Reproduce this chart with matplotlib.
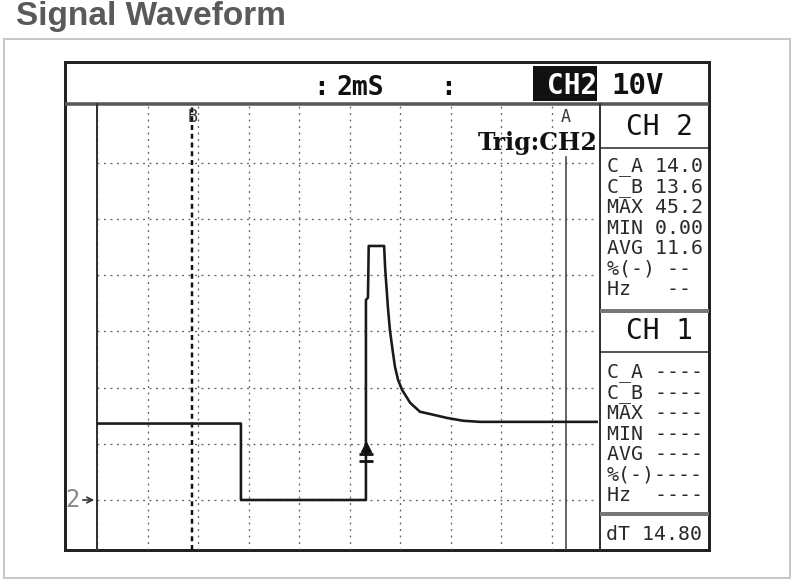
import matplotlib
matplotlib.use('Agg')
import matplotlib.pyplot as plt
from matplotlib.patches import Rectangle

# ---------------- data ----------------
time_ms = [0.0, 5.70, 5.70, 10.65, 10.65, 10.73, 10.76, 11.37, 11.41, 11.52, 11.60,
           11.72, 11.80, 11.92, 12.08, 12.40, 12.79, 13.19, 13.86, 14.50, 15.17, 15.96, 19.84]
volts = [13.6, 13.6, 0.0, 0.0, 35.6, 36.0, 45.2, 45.2, 41.3, 34.3, 30.2,
         26.2, 23.7, 21.4, 19.6, 17.3, 15.7, 15.3, 14.6, 14.1, 13.9, 13.9, 13.9]
cursor_b_ms = 3.77
cursor_a_ms = 18.57
trigger_ms = 10.65
time_div_ms = 2
volt_div = 10
ch2_lines = ["C_A 14.0", "C_B 13.6", "MAX 45.2", "MIN 0.00", "AVG 11.6", "%(-) --", "Hz   --"]
ch1_lines = ["C_A ----", "C_B ----", "MAX ----", "MIN ----", "AVG ----", "%(-)----", "Hz  ----"]
dT_text = "dT 14.80"

W, H = 794, 582
PX = 0.72
MONO = 'DejaVu Sans Mono'

fig = plt.figure(figsize=(W / 100, H / 100), dpi=100)
fig.patch.set_facecolor('white')
bg = fig.add_axes([0, 0, 1, 1])
bg.set_xlim(0, W)
bg.set_ylim(H, 0)
bg.axis('off')

# title
bg.text(16, 16, "Signal Waveform", fontsize=24, fontweight='bold', color='#5a5a5a',
        family='Liberation Sans', ha='left', va='center')
# outer light frame
bg.add_patch(Rectangle((4, 39), 786, 539, fill=False, ec='#c8c8c8', lw=2 * PX))
# screen frame
bg.add_patch(Rectangle((65, 62), 644, 488, fill=False, ec='#222222', lw=3 * PX, zorder=5))
# header bottom line
bg.plot([65, 709], [104, 104], color='#555555', lw=3.5 * PX, solid_capstyle='butt', zorder=5)
# right panel border
bg.plot([600, 600], [104, 550], color='#333333', lw=2 * PX, zorder=5)
for y, c, w in [(148, '#222222', 1.5), (311, '#777777', 4), (352, '#222222', 1.5), (514, '#777777', 4)]:
    bg.plot([600, 709], [y, y], color=c, lw=w * PX, solid_capstyle='butt', zorder=5)

# header texts
bg.text(313, 88, ":", fontsize=19, family=MONO, fontweight='bold', ha='left', va='center', color='#111')
bg.text(336, 88, "2mS", fontsize=19, family=MONO, fontweight='bold', ha='left', va='center', color='#111')
bg.text(440, 88, ":", fontsize=19, family=MONO, fontweight='bold', ha='left', va='center', color='#111')
bg.add_patch(Rectangle((533, 66), 64, 35, fc='#111111', ec='none'))
bg.text(597, 86, "CH2", fontsize=20, family=MONO, fontweight='bold', ha='right', va='center', color='white')
bg.text(611, 86, "10V", fontsize=21, family=MONO, fontweight='bold', ha='left', va='center', color='#111')

# right panel texts
bg.text(660, 127, "CH 2", fontsize=20, family=MONO, ha='center', va='center', color='#111')
bg.text(660, 331, "CH 1", fontsize=20, family=MONO, ha='center', va='center', color='#111')
y0, dy = 167, 20.4
for i, s in enumerate(ch2_lines):
    bg.text(607, y0 + i * dy, s, fontsize=14.3, family=MONO, ha='left', va='center', color='#2a2a2a')
y1 = 373
for i, s in enumerate(ch1_lines):
    bg.text(607, y1 + i * dy, s, fontsize=14.3, family=MONO, ha='left', va='center', color='#2a2a2a')
bg.text(606, 535, dT_text, fontsize=14.3, family=MONO, ha='left', va='center', color='#2a2a2a')

# ground marker
bg.text(72, 500, "2", fontsize=17, family=MONO, ha='center', va='center', color='#888')
bg.annotate('', xy=(97, 500), xytext=(80, 500),
            arrowprops=dict(arrowstyle='->', color='#333', lw=1.2))

# ---------------- waveform axes ----------------
ax = fig.add_axes([97 / W, (H - 550) / H, (598 - 97) / W, (550 - 104) / H])
ax.patch.set_alpha(0)
ax.set_xlim(0, 19.84)
ax.set_ylim(-8.9, 70.46)
ax.set_xticks(range(0, 20, time_div_ms))
ax.set_yticks(range(0, 70, volt_div))
ax.tick_params(length=0, labelbottom=False, labelleft=False)
ax.grid(True, color='#666666', lw=1.3 * PX, linestyle=(0, (1.5, 3.5)))
for s in ['top', 'right', 'bottom']:
    ax.spines[s].set_visible(False)
ax.spines['left'].set_color('#333333')
ax.spines['left'].set_linewidth(2 * PX)

ax.plot(time_ms, volts, color='#1a1a1a', lw=2.6 * PX, zorder=4)

# cursors
ax.axvline(cursor_b_ms, color='#111111', lw=2.5 * PX, linestyle=(0, (2, 1.5)), zorder=3)
ax.plot([cursor_a_ms, cursor_a_ms], [-8.9, 61], color='#444444', lw=1.6 * PX, zorder=3)
ax.text(cursor_b_ms, 68.2, "B", fontsize=12, family=MONO, ha='center', va='center', color='#333')
ax.text(cursor_a_ms, 68.2, "A", fontsize=12, family=MONO, ha='center', va='center', color='#333')
ax.text(19.82, 63.5, "Trig:CH2", fontsize=17, family='DejaVu Serif', fontweight='bold',
        ha='right', va='center', color='#111')

# trigger marker
ax.plot([trigger_ms], [9.4], marker='^', ms=7, color='#111', zorder=5)
ax.plot([trigger_ms], [8.2], marker='_', ms=10, mew=2, color='#111', zorder=5)
ax.plot([trigger_ms], [7.0], marker='_', ms=10, mew=2, color='#111', zorder=5)

fig.savefig('out.png', dpi=100, facecolor='white')
